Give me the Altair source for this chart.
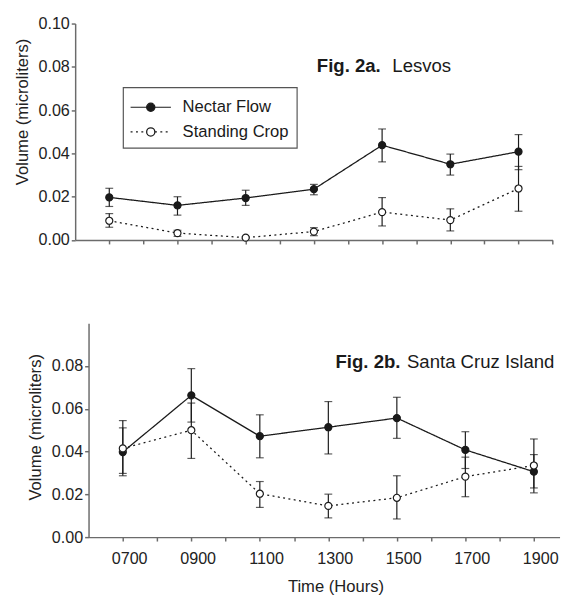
import altair as alt
import pandas as pd

FONT = "Liberation Sans"
INK = "#1a1a1a"
AXIS_C = "#6b6b6b"

# ---------------- data ----------------
hours = [7, 9, 11, 13, 15, 17, 19]
series = ["Nectar Flow", "Standing Crop"]

# Fig. 2a  Lesvos
les_nf = [0.0197, 0.0160, 0.0194, 0.0235, 0.0438, 0.0350, 0.0408]
les_nf_lo = [0.0155, 0.0115, 0.0160, 0.0209, 0.0361, 0.0300, 0.0325]
les_nf_hi = [0.0239, 0.0200, 0.0230, 0.0257, 0.0513, 0.0397, 0.0487]
les_sc = [0.0089, 0.0032, 0.0011, 0.0039, 0.0129, 0.0092, 0.0238]
les_sc_lo = [0.0059, 0.0017, 0.0007, 0.0020, 0.0065, 0.0042, 0.0133]
les_sc_hi = [0.0122, 0.0045, 0.0015, 0.0057, 0.0196, 0.0144, 0.0340]

# Fig. 2b  Santa Cruz Island
scz_nf = [0.0398, 0.0663, 0.0472, 0.0514, 0.0557, 0.0408, 0.0306]
scz_nf_lo = [0.0287, 0.0538, 0.0371, 0.0389, 0.0462, 0.0321, 0.0230]
scz_nf_hi = [0.0545, 0.0788, 0.0572, 0.0634, 0.0654, 0.0493, 0.0386]
scz_sc = [0.0415, 0.0500, 0.0203, 0.0146, 0.0184, 0.0283, 0.0335]
scz_sc_lo = [0.0298, 0.0368, 0.0139, 0.0090, 0.0085, 0.0189, 0.0207]
scz_sc_hi = [0.0511, 0.0627, 0.0260, 0.0201, 0.0287, 0.0374, 0.0459]

y_ticks_a = [0, 0.02, 0.04, 0.06, 0.08, 0.10]
y_ticks_b = [0, 0.02, 0.04, 0.06, 0.08]
x_ticks_a = list(range(7, 21))
x_ticks_b = list(range(7, 20))

label_a = ["Fig. 2a.", "Lesvos"]
label_b = ["Fig. 2b.", "Santa Cruz Island"]


def long_df(nf, nf_lo, nf_hi, sc, sc_lo, sc_hi):
    rows = []
    for name, m, lo, hi in [(series[0], nf, nf_lo, nf_hi), (series[1], sc, sc_lo, sc_hi)]:
        for h, a, b, c in zip(hours, m, lo, hi):
            rows.append({"hour": h, "value": a, "lo": b, "hi": c, "s1": name, "s2": name})
    return pd.DataFrame(rows)


df_a = long_df(les_nf, les_nf_lo, les_nf_hi, les_sc, les_sc_lo, les_sc_hi)
df_b = long_df(scz_nf, scz_nf_lo, scz_nf_hi, scz_sc, scz_sc_lo, scz_sc_hi)

LINE_PATH = "M-1.72,0H-0.36M0.36,0H1.72"
CIRCLE_PATH = "M0.35,0A0.35,0.35 0 1,1 -0.35,0A0.35,0.35 0 1,1 0.35,0Z"

leg_common = dict(title=None, orient="none", legendX=35.3, legendY=65.3, direction="vertical",
                  symbolSize=576, symbolOffset=8, labelOffset=19.6, labelFont=FONT,
                  labelFontSize=17, labelColor=INK, labelLimit=400, padding=7.4, rowPadding=4.3,
                  symbolStrokeColor=INK)
legA = alt.Legend(symbolType=LINE_PATH, symbolStrokeWidth=1.2, strokeColor="#555555", **leg_common)
legB = alt.Legend(symbolType=CIRCLE_PATH, symbolStrokeWidth=1.3, labelOpacity=0, **leg_common)


def panel(df, width, height, xscale, xaxis, yaxis, ann, ann_pos, show_legend):
    base = alt.Chart(df)
    X = alt.X("hour:Q", scale=xscale, axis=xaxis)
    yscale = alt.Scale(domain=[0, 0.1], nice=False, zero=True)

    def Y(f):
        return alt.Y(f"{f}:Q", scale=yscale, axis=yaxis)

    lines = base.mark_line(color=INK, strokeWidth=1.3).encode(
        x=X, y=Y("value"),
        strokeDash=alt.StrokeDash("s1:N", scale=alt.Scale(range=[[1, 0], [2, 3.5]]),
                                  legend=legA if show_legend else None))
    rules = base.mark_rule(color=INK, strokeWidth=1.2).encode(x=X, y=Y("lo"), y2="hi:Q")
    cap_lo = base.mark_tick(color=INK, orient="horizontal", size=8, thickness=1.2).encode(x=X, y=Y("lo"))
    cap_hi = base.mark_tick(color=INK, orient="horizontal", size=8, thickness=1.2).encode(x=X, y=Y("hi"))
    pts = base.mark_point(shape="circle", filled=True, size=52, stroke=INK, strokeWidth=1.2, opacity=1).encode(
        x=X, y=Y("value"),
        fill=alt.Fill("s2:N", scale=alt.Scale(range=[INK, "white"]),
                      legend=legB if show_legend else None))
    (bx, by), (rx, ry) = ann_pos
    bold = alt.Chart(pd.DataFrame({"hour": [bx], "value": [by], "t": [ann[0]]})).mark_text(
        align="right", baseline="alphabetic", font=FONT, fontSize=19, fontWeight="bold", color=INK
    ).encode(x=X, y=Y("value"), text="t:N")
    reg = alt.Chart(pd.DataFrame({"hour": [rx], "value": [ry], "t": [ann[1]]})).mark_text(
        align="left", baseline="alphabetic", font=FONT, fontSize=19, color=INK
    ).encode(x=X, y=Y("value"), text="t:N")
    return alt.layer(lines, rules, cap_lo, cap_hi, pts, bold, reg).properties(width=width, height=height)


ax_common = dict(grid=False, domainColor=AXIS_C, domainWidth=1.5, tickColor=AXIS_C, tickWidth=1.5,
                 tickSize=4, labelFont=FONT, labelFontSize=16.5, labelColor="#222222",
                 titleFont=FONT, titleFontSize=17, titleFontWeight="normal", titleColor="#222222",
                 labelOverlap=False)

yaxis_a = alt.Axis(title="Volume (microliters)", values=y_ticks_a, format=".2f", offset=13.7,
                   labelPadding=2, titleX=-54, titleY=90, titleBaseline="middle", titleAlign="center",
                   **ax_common)
yaxis_b = alt.Axis(title="Volume (microliters)", values=y_ticks_b, format=".2f",
                   labelPadding=2, titleX=-54, titleY=106, titleBaseline="middle", titleAlign="center",
                   **ax_common)
xaxis_a = alt.Axis(title=None, values=x_ticks_a, labels=False, **ax_common)
xaxis_b = alt.Axis(title="Time (Hours)", values=x_ticks_b,
                   labelExpr="datum.value % 2 == 1 ? (datum.value < 10 ? '0' : '') + datum.value + '00' : ''",
                   labelOffset=6.5, labelPadding=10.4, labelFlush=False,
                   titleX=252.9, titleY=55.8, titleBaseline="alphabetic", titleAlign="center",
                   **ax_common)

top = panel(df_a, 475.3, 221.7,
            alt.Scale(domain=[6, 20], range=[-13.7, 475.3], nice=False, zero=False),
            xaxis_a, yaxis_a, label_a, [(14.96, 0.0776), (15.30, 0.0776)], True)
bottom = panel(df_b, 482.4, 219,
               alt.Scale(domain=[6, 19.75], nice=False, zero=False),
               xaxis_b, yaxis_b, label_b, [(15.105, 0.0793), (15.296, 0.0793)], False)

chart = alt.vconcat(top, bottom, spacing=76).resolve_scale(
    strokeDash="independent", fill="independent", x="independent", y="independent"
).resolve_legend(strokeDash="independent", fill="independent").properties(
    padding={"left": 5.5, "top": 0.75, "right": 0, "bottom": 0}
).configure_view(stroke=None).configure_legend(strokeWidth=1.2)

chart.save("out.html", embed_options={"renderer": "svg", "actions": False})
